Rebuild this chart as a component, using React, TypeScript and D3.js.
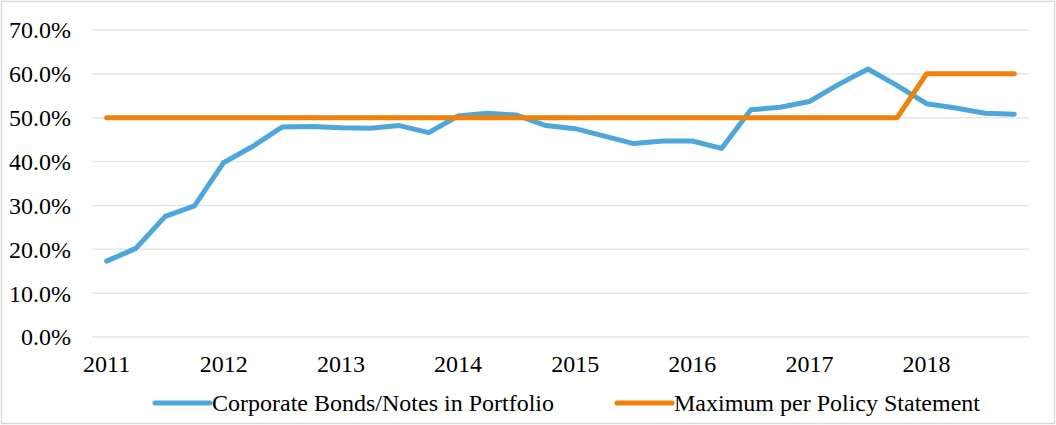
import React from "react";
import * as d3 from "d3";

const quarters: string[] = [];
const years = ["2011", "2012", "2013", "2014", "2015", "2016", "2017", "2018"];
years.forEach((y) => ["Q1", "Q2", "Q3", "Q4"].forEach((q) => quarters.push(`${y} ${q}`)));

const corporateBonds = [
  17.3, 20.2, 27.5, 29.9, 39.8, 43.5, 47.9, 48.0,
  47.7, 47.6, 48.2, 46.6, 50.4, 51.0, 50.6, 48.2,
  47.5, 45.8, 44.1, 44.7, 44.7, 43.0, 51.8, 52.4,
  53.7, 57.6, 61.1, 57.3, 53.2, 52.2, 51.0, 50.8,
];
const policyMax = [
  50, 50, 50, 50, 50, 50, 50, 50,
  50, 50, 50, 50, 50, 50, 50, 50,
  50, 50, 50, 50, 50, 50, 50, 50,
  50, 50, 50, 50, 60, 60, 60, 60,
];
const yTicks = [0, 10, 20, 30, 40, 50, 60, 70];
const seriesNames = ["Corporate Bonds/Notes in Portfolio", "Maximum per Policy Statement"];
const colors = ["#4ea7da", "#f0820c"];

const W = 1056, H = 425;
const left = 92, right = 1029, top = 30, bottom = 337;

export default function App() {
  const x = d3.scaleBand<string>().domain(quarters).range([left, right]);
  const y = d3.scaleLinear().domain([0, 70]).range([bottom, top]);
  const cx = (q: string) => (x(q) ?? 0) + x.bandwidth() / 2;
  const line = d3
    .line<number>()
    .x((_, i) => cx(quarters[i]))
    .y((d) => y(d));
  const font = "'Liberation Serif', 'Times New Roman', serif";
  const fs = 24;
  return (
    <svg width={W} height={H} style={{ position: "absolute", left: 0, top: 0, background: "#fff" }}>
      <rect x={1.5} y={1.5} width={W - 3} height={H - 3} fill="#fff" stroke="#d9d9d9" strokeWidth={1.5} />
      {yTicks.map((t) => (
        <g key={t}>
          <line x1={left} x2={right} y1={y(t)} y2={y(t)} stroke="#e6e6e6" strokeWidth={1.5} />
          <text x={71} y={y(t)} dy="0.35em" textAnchor="end" fontFamily={font} fontSize={fs} fill="#000">
            {t.toFixed(1)}%
          </text>
        </g>
      ))}
      {quarters.map((q, i) =>
        i % 4 === 0 ? (
          <text key={q} x={cx(q)} y={372} textAnchor="middle" fontFamily={font} fontSize={fs} fill="#000">
            {q.slice(0, 4)}
          </text>
        ) : null
      )}
      <path d={line(corporateBonds) ?? ""} fill="none" stroke={colors[0]} strokeWidth={5} strokeLinejoin="round" strokeLinecap="round" />
      <path d={line(policyMax) ?? ""} fill="none" stroke={colors[1]} strokeWidth={5} strokeLinejoin="round" strokeLinecap="round" />
      {[155, 617].map((lx, i) => (
        <g key={i}>
          <line x1={lx} x2={lx + 55} y1={403} y2={403} stroke={colors[i]} strokeWidth={5} strokeLinecap="round" />
          <text x={lx + 57} y={403} dy="0.35em" fontFamily={font} fontSize={fs} fill="#000">
            {seriesNames[i]}
          </text>
        </g>
      ))}
    </svg>
  );
}
